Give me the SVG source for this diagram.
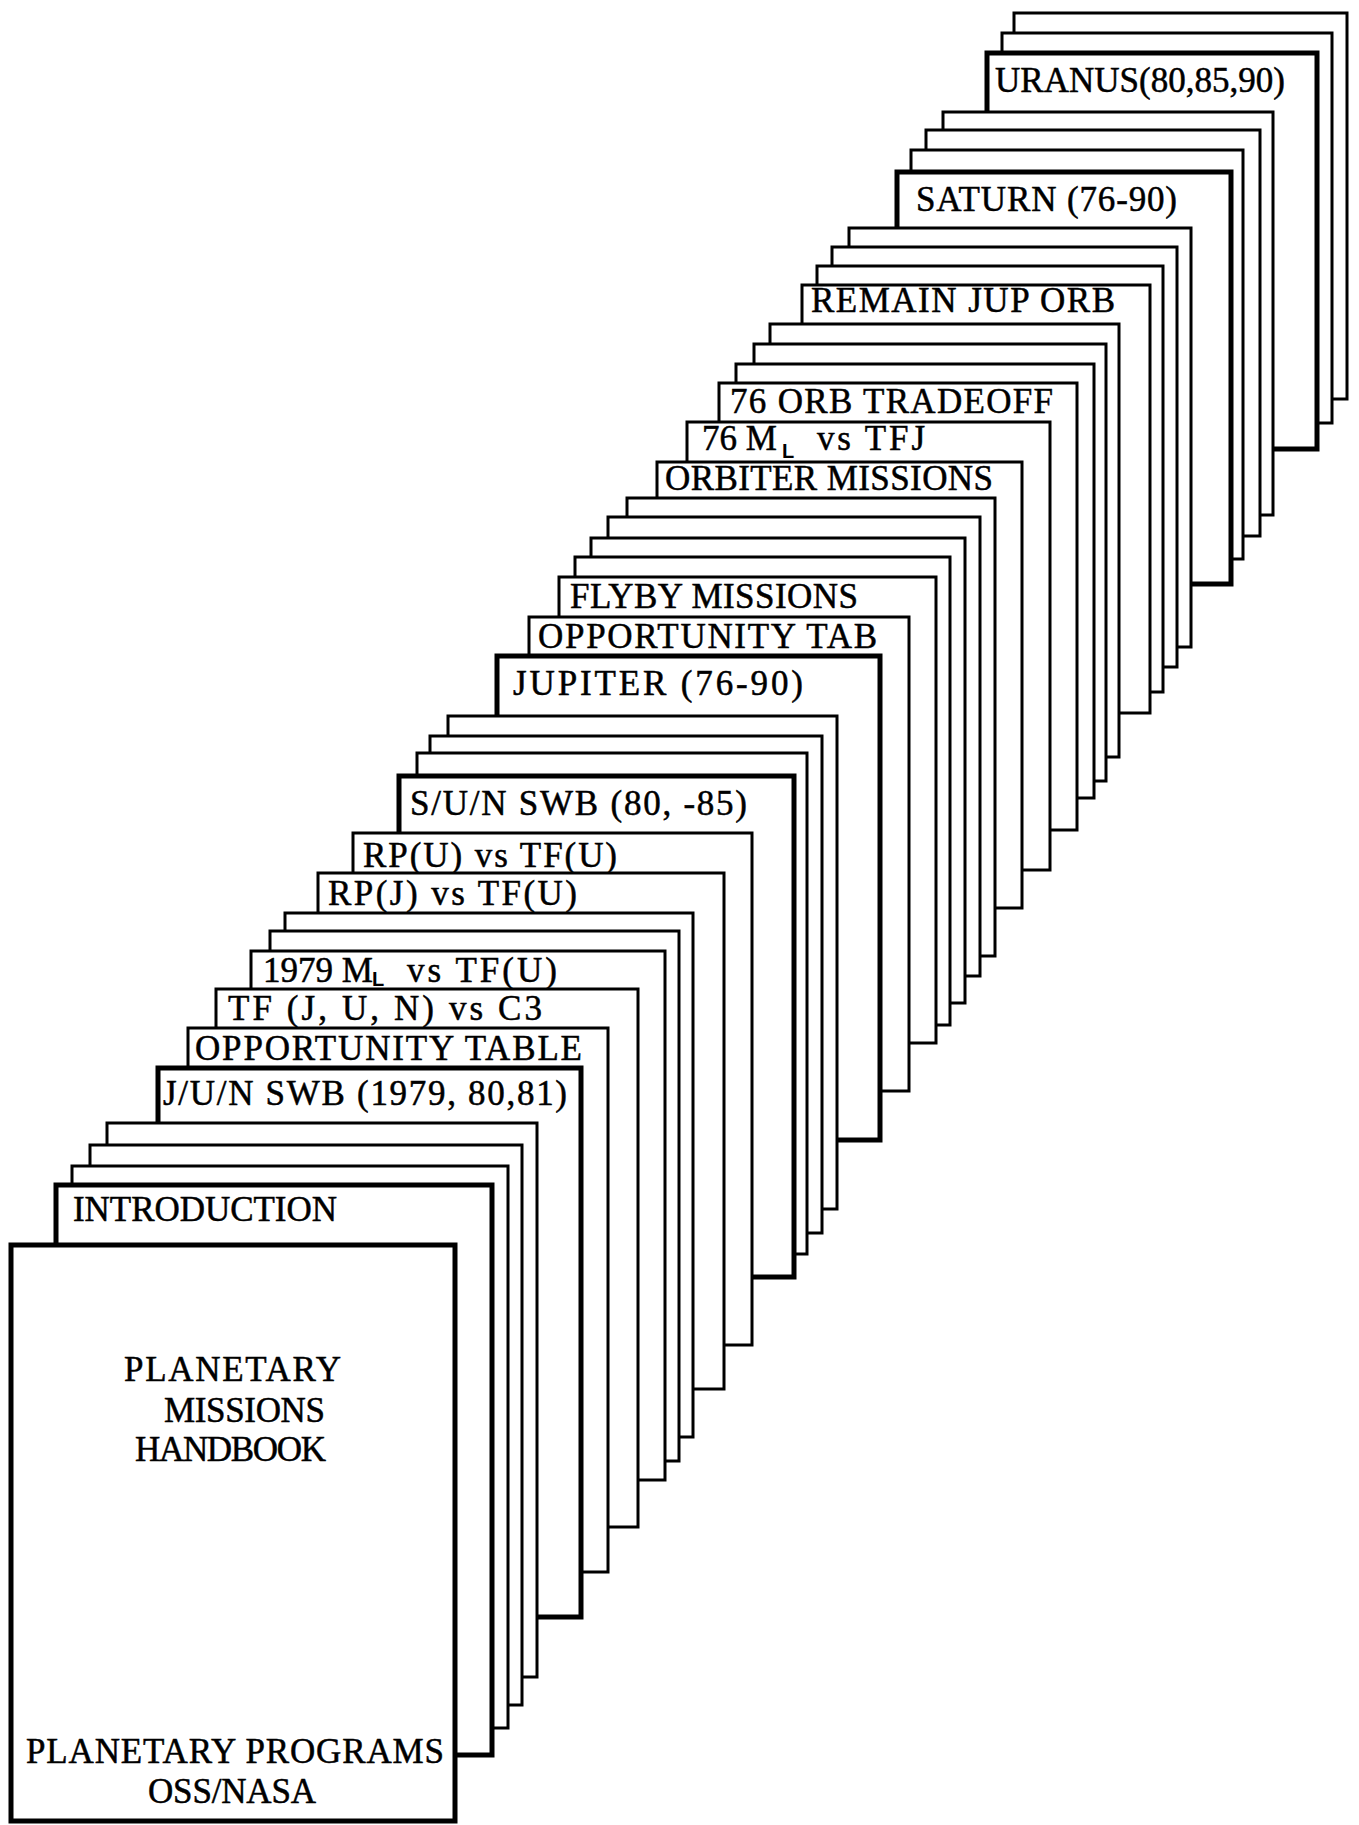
<svg xmlns="http://www.w3.org/2000/svg" width="1359" height="1825" viewBox="0 0 1359 1825">
<style>
.card{fill:#fff;stroke:#000;stroke-width:3;stroke-linejoin:miter}
.thick{stroke-width:5}
.lbl{font-family:"Liberation Serif","Times New Roman",serif;font-size:35px;fill:#000;stroke:#000;stroke-width:0.5}
.sub{font-family:"Liberation Sans",Arial,sans-serif;font-size:20px;font-weight:bold;stroke:none}
</style>
<rect width="1359" height="1825" fill="#fff"/>
<g id="c01"><rect class="card" x="1014" y="13" width="333" height="386"/></g>
<g id="c02"><rect class="card" x="1002" y="33" width="330" height="390"/></g>
<g id="c03"><rect class="card thick" x="987" y="53" width="330" height="396"/><text class="lbl" x="995" y="92" textLength="290">URANUS(80,85,90)</text></g>
<g id="c04"><rect class="card" x="943" y="112" width="330" height="403"/></g>
<g id="c05"><rect class="card" x="926" y="130" width="334" height="406"/></g>
<g id="c06"><rect class="card" x="911" y="150" width="332" height="409"/></g>
<g id="c07"><rect class="card thick" x="897" y="172" width="334" height="412"/><text class="lbl" x="916" y="211" textLength="261">SATURN (76-90)</text></g>
<g id="c08"><rect class="card" x="849" y="228" width="342" height="419"/></g>
<g id="c09"><rect class="card" x="832" y="247" width="345" height="420"/></g>
<g id="c10"><rect class="card" x="817" y="266" width="346" height="426"/></g>
<g id="c11"><rect class="card" x="802" y="285" width="348" height="428"/><text class="lbl" x="811" y="312" textLength="304">REMAIN JUP ORB</text></g>
<g id="c12"><rect class="card" x="770" y="324" width="349" height="433"/></g>
<g id="c13"><rect class="card" x="754" y="344" width="352" height="437"/></g>
<g id="c14"><rect class="card" x="736" y="364" width="358" height="434"/></g>
<g id="c15"><rect class="card" x="719" y="383" width="358" height="447"/><text class="lbl" x="730" y="413" textLength="323">76 ORB TRADEOFF</text></g>
<g id="c16"><rect class="card" x="687" y="422" width="363" height="448"/><text class="lbl" x="702" y="450">76 M<tspan class="sub" x="782" y="458">L</tspan><tspan x="817" y="450" textLength="108">vs TFJ</tspan></text></g>
<g id="c17"><rect class="card" x="657" y="462" width="365" height="446"/><text class="lbl" x="665" y="490" textLength="328">ORBITER MISSIONS</text></g>
<g id="c18"><rect class="card" x="627" y="498" width="368" height="458"/></g>
<g id="c19"><rect class="card" x="608" y="517" width="372" height="459"/></g>
<g id="c20"><rect class="card" x="591" y="538" width="374" height="465"/></g>
<g id="c21"><rect class="card" x="575" y="557" width="375" height="468"/></g>
<g id="c22"><rect class="card" x="559" y="577" width="377" height="466"/><text class="lbl" x="570" y="608" textLength="288">FLYBY MISSIONS</text></g>
<g id="c23"><rect class="card" x="529" y="617" width="380" height="474"/><text class="lbl" x="538" y="648" textLength="339">OPPORTUNITY TAB</text></g>
<g id="c24"><rect class="card thick" x="497" y="656" width="383" height="484"/><text class="lbl" x="513" y="695" textLength="290">JUPITER (76-90)</text></g>
<g id="c25"><rect class="card" x="448" y="716" width="389" height="493"/></g>
<g id="c26"><rect class="card" x="430" y="736" width="392" height="497"/></g>
<g id="c27"><rect class="card" x="417" y="753" width="390" height="501"/></g>
<g id="c28"><rect class="card thick" x="399" y="776" width="395" height="501"/><text class="lbl" x="410" y="815" textLength="337">S/U/N SWB (80, -85)</text></g>
<g id="c29"><rect class="card" x="353" y="833" width="399" height="512"/><text class="lbl" x="363" y="867" textLength="254">RP(U) vs TF(U)</text></g>
<g id="c30"><rect class="card" x="318" y="873" width="406" height="516"/><text class="lbl" x="328" y="905" textLength="249">RP(J) vs TF(U)</text></g>
<g id="c31"><rect class="card" x="285" y="913" width="408" height="524"/></g>
<g id="c32"><rect class="card" x="270" y="931" width="409" height="530"/></g>
<g id="c33"><rect class="card" x="251" y="951" width="414" height="529"/><text class="lbl" x="263" y="982">1979 M<tspan class="sub" x="372" y="986">L</tspan><tspan x="407" y="982" textLength="150">vs TF(U)</tspan></text></g>
<g id="c34"><rect class="card" x="216" y="989" width="422" height="538"/><text class="lbl" x="228" y="1020" textLength="314">TF (J, U, N) vs C3</text></g>
<g id="c35"><rect class="card" x="188" y="1028" width="420" height="544"/><text class="lbl" x="195" y="1060" textLength="387">OPPORTUNITY TABLE</text></g>
<g id="c36"><rect class="card thick" x="158" y="1068" width="423" height="549"/><text class="lbl" x="163" y="1105" textLength="404">J/U/N SWB (1979, 80,81)</text></g>
<g id="c37"><rect class="card" x="107" y="1123" width="430" height="554"/></g>
<g id="c38"><rect class="card" x="90" y="1145" width="432" height="560"/></g>
<g id="c39"><rect class="card" x="72" y="1166" width="436" height="562"/></g>
<g id="c40"><rect class="card thick" x="56" y="1185" width="436" height="570"/><text class="lbl" x="73" y="1221" textLength="264">INTRODUCTION</text></g>
<g id="cover"><rect class="card thick" x="11" y="1245" width="444" height="576"/>
<text class="lbl" x="124" y="1381" textLength="217">PLANETARY</text>
<text class="lbl" x="164" y="1422" textLength="161">MISSIONS</text>
<text class="lbl" x="135" y="1461" textLength="191">HANDBOOK</text>
<text class="lbl" x="26" y="1763" textLength="418">PLANETARY PROGRAMS</text>
<text class="lbl" x="148" y="1803" textLength="168">OSS/NASA</text>
</g>
</svg>
